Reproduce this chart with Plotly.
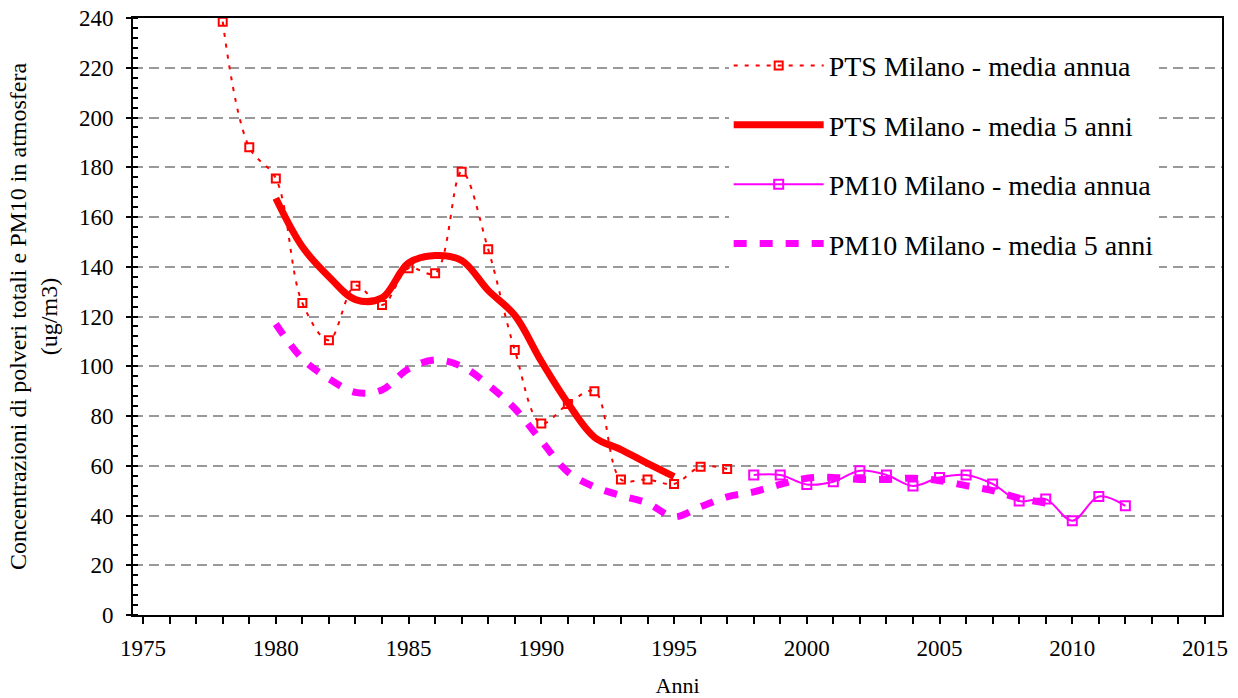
import plotly.graph_objects as go

# ---- data ----
pts_years = list(range(1978, 1998))
pts_annual = [238.5, 188, 175.5, 125.4, 110.5, 132.4, 124.6, 139.4, 137.4, 178.2,
              147, 106.5, 77, 84.8, 90, 54.5, 54.5, 52.7, 59.6, 58.7]

pts5_years = list(range(1980, 1996))
pts_5yr = [167.5, 148, 136, 126.8, 127.5, 141.5, 144.5, 142.5, 130.5, 120.5,
           102, 85.2, 71.5, 66.5, 61, 55.6]

pm_years = list(range(1998, 2013))
pm_annual = [56.3, 56.3, 52.5, 53.6, 58, 56.3, 51.9, 55.3, 56.3, 52.7,
             45.8, 46.6, 37.9, 47.6, 43.9]

pm5_years = list(range(1980, 2010))
pm_5yr = [117, 103, 95, 89.5, 90.5, 99, 102.5, 100, 92.5, 83,
          70, 57.5, 51.5, 48, 45, 39.5, 43.5, 47.5, 49.5, 52.5,
          55, 55.3, 54.5, 54.5, 55, 54, 52, 50, 47, 45]

x_ticks = list(range(1975, 2016, 5))
y_ticks = list(range(0, 241, 20))

names = ["PTS Milano - media annua", "PTS Milano - media 5 anni",
         "PM10 Milano - media annua", "PM10 Milano - media 5 anni"]

RED = "#FF0000"
MAG = "#FF00FF"
FONT = "Liberation Serif"

fig = go.Figure()
fig.add_trace(go.Scatter(
    x=pts_years, y=pts_annual, name=names[0], legendgroup="a",
    mode="lines+markers",
    line=dict(color=RED, width=2, dash="4px,7px", shape="spline", smoothing=1),
    marker=dict(symbol="square-open", size=8, color=RED, line=dict(width=2, color=RED)),
))
fig.add_trace(go.Scatter(
    x=pts5_years, y=pts_5yr, name=names[1], legendgroup="b",
    mode="lines",
    line=dict(color=RED, width=7, shape="spline", smoothing=1),
))
fig.add_trace(go.Scatter(
    x=pm_years, y=pm_annual, name=names[2], legendgroup="c",
    mode="lines+markers",
    line=dict(color=MAG, width=2, shape="spline", smoothing=1),
    marker=dict(symbol="square-open", size=9, color=MAG, line=dict(width=2, color=MAG)),
))
fig.add_trace(go.Scatter(
    x=pm5_years, y=pm_5yr, name=names[3], legendgroup="d",
    mode="lines",
    line=dict(color=MAG, width=7, dash="13px,13px", shape="spline", smoothing=1),
))

fig.update_layout(
    width=1238, height=698,
    margin=dict(l=133, r=16, t=18, b=83, autoexpand=False),
    paper_bgcolor="white", plot_bgcolor="white",
    font=dict(family=FONT, size=22, color="black"),
    showlegend=True,
    legend=dict(
        x=0.547, y=0.962, xanchor="left", yanchor="top",
        bgcolor="white", borderwidth=0,
        font=dict(family=FONT, size=28, color="black"),
        itemwidth=90, tracegroupgap=20,
    ),
    xaxis=dict(
        range=[1974.62, 2015.64], automargin=False,
        tickvals=x_ticks, ticktext=[str(v) for v in x_ticks],
        ticks="outside", ticklen=7, tickwidth=2, tickcolor="black",
        minor=dict(dtick=1, tick0=1975, ticks="outside", ticklen=7, tickwidth=2, tickcolor="black"),
        showline=True, linecolor="black", linewidth=2, mirror=True,
        showgrid=False, zeroline=False,
        ticklabelstandoff=4,
        tickfont=dict(family=FONT, size=23),
        title=dict(text="Anni", font=dict(family=FONT, size=22), standoff=18),
    ),
    yaxis=dict(
        range=[0, 240], automargin=False,
        tickvals=y_ticks,
        ticks="outside", ticklen=5, tickwidth=2, tickcolor="black",
        minor=dict(dtick=4, tick0=0, ticks="inside", ticklen=5, tickwidth=2, tickcolor="black",
                   showgrid=False),
        showline=True, linecolor="black", linewidth=2, mirror=True,
        showgrid=True, gridcolor="#999999", gridwidth=2, griddash="10px,6px",
        zeroline=False,
        ticklabelstandoff=8,
        tickfont=dict(family=FONT, size=23),
        title=dict(text="Concentrazioni di polveri totali e PM10 in atmosfera<br>(ug/m3)",
                   font=dict(family=FONT, size=24), standoff=14),
    ),
)

fig.write_html("out.html", config={"displayModeBar": False},
               post_script="document.body.style.margin='0px';")
